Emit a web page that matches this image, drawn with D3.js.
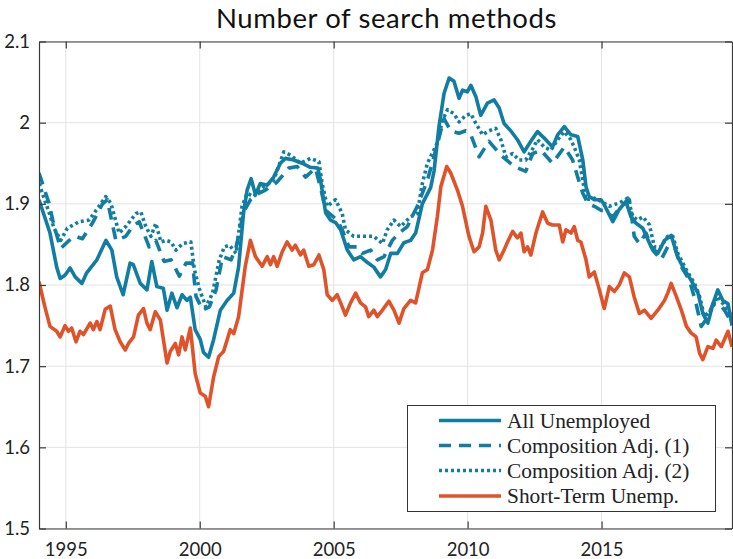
<!DOCTYPE html>
<html><head><meta charset="utf-8">
<script src="https://cdn.jsdelivr.net/npm/d3@7/dist/d3.min.js"></script>
<style>body{margin:0;background:#fff}</style>
</head><body>
<svg id="chart" width="733" height="559"></svg>
<script>
const chartTitle = "Number of search methods";
const xTickValues = [1995, 2000, 2005, 2010, 2015];
const yTickValues = [1.5, 1.6, 1.7, 1.8, 1.9, 2.0, 2.1];
const yTickLabels = ["1.5", "1.6", "1.7", "1.8", "1.9", "2", "2.1"];
const seriesNames = ["All Unemployed", "Composition Adj. (1)", "Composition Adj. (2)", "Short-Term Unemp."];

const allUnemployed = [[1994.0,1.905],[1994.41,1.864],[1994.66,1.822],[1994.79,1.808],[1994.97,1.812],[1995.16,1.821],[1995.35,1.81],[1995.6,1.802],[1995.78,1.815],[1996.16,1.831],[1996.5,1.855],[1996.72,1.843],[1996.9,1.81],[1997.14,1.788],[1997.4,1.827],[1997.52,1.825],[1997.78,1.802],[1998.03,1.794],[1998.21,1.829],[1998.4,1.798],[1998.64,1.796],[1998.78,1.769],[1998.96,1.79],[1999.15,1.772],[1999.34,1.788],[1999.52,1.781],[1999.65,1.785],[1999.83,1.745],[2000.02,1.733],[2000.14,1.717],[2000.33,1.711],[2000.52,1.733],[2000.77,1.769],[2001.02,1.781],[2001.27,1.79],[2001.45,1.822],[2001.64,1.89],[2001.77,1.917],[2001.92,1.931],[2002.08,1.911],[2002.26,1.925],[2002.52,1.923],[2002.76,1.933],[2003.01,1.95],[2003.2,1.956],[2003.51,1.954],[2003.82,1.95],[2004.13,1.945],[2004.41,1.944],[2004.51,1.929],[2004.7,1.889],[2004.88,1.88],[2005.07,1.877],[2005.26,1.868],[2005.51,1.843],[2005.75,1.831],[2006.0,1.835],[2006.25,1.828],[2006.5,1.822],[2006.75,1.81],[2006.94,1.819],[2007.13,1.839],[2007.38,1.839],[2007.62,1.852],[2007.87,1.855],[2008.06,1.864],[2008.31,1.9],[2008.62,1.92],[2008.75,1.941],[2008.93,1.995],[2009.12,2.036],[2009.31,2.055],[2009.49,2.051],[2009.68,2.03],[2009.81,2.04],[2009.99,2.038],[2010.12,2.046],[2010.31,2.032],[2010.49,2.009],[2010.74,2.024],[2010.99,2.028],[2011.18,2.018],[2011.36,1.999],[2011.61,1.99],[2011.86,1.979],[2012.11,1.964],[2012.36,1.977],[2012.61,1.989],[2012.86,1.981],[2013.17,1.97],[2013.36,1.985],[2013.61,1.995],[2013.86,1.985],[2014.11,1.983],[2014.3,1.954],[2014.42,1.921],[2014.54,1.909],[2014.73,1.905],[2014.98,1.905],[2015.1,1.899],[2015.42,1.878],[2015.66,1.893],[2015.91,1.903],[2016.1,1.884],[2016.29,1.876],[2016.54,1.87],[2016.85,1.847],[2017.1,1.839],[2017.35,1.855],[2017.6,1.861],[2017.85,1.834],[2018.09,1.819],[2018.34,1.806],[2018.6,1.79],[2018.78,1.765],[2018.97,1.753],[2019.16,1.777],[2019.34,1.794],[2019.53,1.781],[2019.72,1.777],[2019.87,1.75]];

const compositionAdj1 = [[1994.0,1.938],[1994.37,1.901],[1994.56,1.873],[1994.81,1.845],[1995.19,1.857],[1995.37,1.86],[1995.62,1.857],[1995.99,1.876],[1996.37,1.9],[1996.55,1.905],[1996.74,1.875],[1996.87,1.855],[1997.24,1.86],[1997.49,1.872],[1997.74,1.878],[1998.11,1.847],[1998.36,1.855],[1998.67,1.829],[1998.93,1.831],[1999.24,1.811],[1999.49,1.827],[1999.73,1.827],[1999.86,1.786],[2000.11,1.769],[2000.36,1.773],[2000.61,1.794],[2000.85,1.835],[2001.17,1.831],[2001.36,1.847],[2001.64,1.89],[2001.89,1.905],[2002.2,1.913],[2002.45,1.917],[2002.89,1.927],[2003.32,1.944],[2003.64,1.946],[2003.95,1.933],[2004.32,1.944],[2004.51,1.92],[2004.7,1.892],[2005.13,1.88],[2005.32,1.868],[2005.57,1.847],[2005.88,1.847],[2006.07,1.839],[2006.38,1.843],[2006.63,1.831],[2006.88,1.835],[2007.19,1.855],[2007.44,1.864],[2007.75,1.872],[2008.12,1.897],[2008.5,1.929],[2008.81,1.966],[2009.12,2.005],[2009.37,1.99],[2009.68,1.987],[2009.93,1.99],[2010.12,1.985],[2010.43,1.958],[2010.8,1.977],[2011.24,1.96],[2011.74,1.946],[2012.17,1.94],[2012.43,1.962],[2012.74,1.966],[2013.17,1.95],[2013.61,1.97],[2013.92,1.954],[2014.11,1.933],[2014.3,1.913],[2014.48,1.901],[2014.73,1.897],[2014.98,1.892],[2015.1,1.892],[2015.42,1.884],[2015.73,1.897],[2016.04,1.905],[2016.22,1.86],[2016.41,1.851],[2016.66,1.864],[2016.91,1.843],[2017.22,1.831],[2017.47,1.847],[2017.72,1.847],[2017.97,1.823],[2018.28,1.806],[2018.53,1.777],[2018.72,1.749],[2018.97,1.761],[2019.16,1.777],[2019.4,1.777],[2019.59,1.769],[2019.87,1.753]];

const compositionAdj2 = [[1994.0,1.925],[1994.37,1.89],[1994.56,1.87],[1994.81,1.855],[1995.06,1.87],[1995.5,1.878],[1995.87,1.88],[1996.24,1.897],[1996.49,1.909],[1996.68,1.901],[1996.99,1.864],[1997.24,1.872],[1997.62,1.888],[1997.8,1.89],[1997.99,1.872],[1998.18,1.86],[1998.36,1.876],[1998.55,1.853],[1998.74,1.855],[1998.93,1.853],[1999.11,1.843],[1999.36,1.851],[1999.67,1.853],[1999.8,1.819],[1999.98,1.796],[2000.23,1.773],[2000.48,1.79],[2000.73,1.831],[2000.92,1.847],[2001.11,1.849],[2001.36,1.839],[2001.58,1.897],[2001.77,1.913],[2002.01,1.909],[2002.39,1.921],[2002.76,1.929],[2003.14,1.964],[2003.39,1.96],[2003.76,1.95],[2004.13,1.956],[2004.45,1.952],[2004.57,1.925],[2004.76,1.897],[2005.07,1.905],[2005.32,1.888],[2005.44,1.868],[2005.75,1.86],[2006.13,1.86],[2006.5,1.86],[2006.82,1.851],[2007.0,1.868],[2007.25,1.88],[2007.5,1.872],[2007.87,1.884],[2008.12,1.888],[2008.31,1.925],[2008.5,1.95],[2008.87,1.975],[2009.06,2.003],[2009.25,2.016],[2009.49,2.011],[2009.68,2.001],[2009.93,2.009],[2010.12,2.011],[2010.31,1.999],[2010.56,1.985],[2010.8,1.99],[2011.05,1.993],[2011.24,1.979],[2011.43,1.958],[2011.68,1.962],[2011.92,1.954],[2012.17,1.954],[2012.43,1.968],[2012.61,1.979],[2012.86,1.97],[2013.11,1.966],[2013.36,1.979],[2013.61,1.989],[2013.86,1.979],[2013.98,1.97],[2014.17,1.954],[2014.3,1.929],[2014.42,1.905],[2014.73,1.907],[2014.98,1.903],[2015.29,1.897],[2015.66,1.901],[2015.98,1.907],[2016.17,1.884],[2016.35,1.88],[2016.54,1.884],[2016.79,1.874],[2016.97,1.847],[2017.22,1.847],[2017.47,1.86],[2017.66,1.86],[2017.85,1.839],[2018.16,1.819],[2018.47,1.802],[2018.66,1.786],[2018.84,1.761],[2019.09,1.769],[2019.34,1.786],[2019.53,1.777],[2019.72,1.769],[2019.87,1.761]];

const shortTermUnemp = [[1994.0,1.804],[1994.22,1.773],[1994.41,1.749],[1994.66,1.743],[1994.79,1.736],[1994.97,1.75],[1995.1,1.743],[1995.22,1.747],[1995.38,1.73],[1995.53,1.743],[1995.66,1.739],[1995.91,1.753],[1996.03,1.745],[1996.16,1.755],[1996.28,1.745],[1996.47,1.77],[1996.66,1.774],[1996.84,1.745],[1997.03,1.73],[1997.22,1.72],[1997.34,1.728],[1997.53,1.736],[1997.71,1.763],[1997.9,1.771],[1998.03,1.753],[1998.15,1.745],[1998.34,1.767],[1998.53,1.757],[1998.78,1.704],[1998.9,1.718],[1999.09,1.728],[1999.21,1.714],[1999.34,1.736],[1999.46,1.72],[1999.65,1.747],[1999.83,1.691],[2000.02,1.667],[2000.21,1.663],[2000.33,1.65],[2000.52,1.687],[2000.71,1.712],[2000.89,1.718],[2001.14,1.745],[2001.27,1.74],[2001.45,1.761],[2001.7,1.823],[2001.89,1.855],[2002.08,1.835],[2002.33,1.823],[2002.52,1.835],[2002.64,1.825],[2002.76,1.835],[2002.89,1.823],[2003.08,1.841],[2003.26,1.853],[2003.45,1.843],[2003.57,1.849],[2003.76,1.837],[2003.88,1.843],[2004.07,1.823],[2004.26,1.825],[2004.45,1.837],[2004.63,1.819],[2004.76,1.788],[2004.95,1.781],[2005.13,1.788],[2005.26,1.778],[2005.44,1.763],[2005.63,1.778],[2005.82,1.79],[2006.0,1.778],[2006.19,1.773],[2006.31,1.761],[2006.5,1.769],[2006.63,1.761],[2006.82,1.769],[2007.06,1.78],[2007.25,1.769],[2007.44,1.753],[2007.62,1.771],[2007.87,1.781],[2008.06,1.778],[2008.31,1.815],[2008.5,1.819],[2008.69,1.843],[2008.87,1.884],[2009.0,1.921],[2009.22,1.946],[2009.37,1.938],[2009.62,1.917],[2009.81,1.897],[2010.05,1.86],[2010.24,1.841],[2010.43,1.847],[2010.56,1.864],[2010.68,1.897],[2010.87,1.88],[2011.05,1.843],[2011.18,1.831],[2011.36,1.843],[2011.49,1.853],[2011.68,1.866],[2011.86,1.858],[2011.99,1.864],[2012.11,1.841],[2012.24,1.847],[2012.36,1.837],[2012.55,1.864],[2012.8,1.89],[2012.99,1.876],[2013.17,1.874],[2013.42,1.874],[2013.55,1.853],[2013.67,1.868],[2013.86,1.864],[2013.98,1.872],[2014.11,1.855],[2014.23,1.853],[2014.42,1.831],[2014.54,1.81],[2014.73,1.816],[2014.92,1.794],[2015.1,1.771],[2015.29,1.798],[2015.48,1.792],[2015.66,1.8],[2015.85,1.815],[2016.04,1.81],[2016.22,1.785],[2016.41,1.765],[2016.6,1.769],[2016.85,1.759],[2017.1,1.769],[2017.35,1.781],[2017.47,1.79],[2017.6,1.802],[2017.79,1.786],[2017.98,1.769],[2018.17,1.749],[2018.34,1.741],[2018.53,1.736],[2018.66,1.716],[2018.78,1.708],[2018.97,1.724],[2019.16,1.722],[2019.28,1.732],[2019.47,1.724],[2019.72,1.743],[2019.87,1.724]];

const seriesData = [allUnemployed, compositionAdj1, compositionAdj2, shortTermUnemp];
const seriesColors = ["#127da2", "#127da2", "#127da2", "#e0532a"];
const seriesDash = [null, "12,8", "3,3", null];

const W = 733, H = 559;
const m = {left: 39, right: 1, top: 41.5, bottom: 30.5};
const svg = d3.select("#chart");
const x = d3.scaleLinear().domain([1994.0, 2019.87]).range([m.left, W - m.right]);
const y = d3.scaleLinear().domain([1.5, 2.1]).range([H - m.bottom, m.top]);
const x0 = m.left, x1 = W - m.right, y0 = H - m.bottom, y1 = m.top;

// grid
const grid = svg.append("g").attr("stroke", "#e3e3e3").attr("stroke-width", 1);
grid.selectAll("line.v").data(xTickValues).join("line")
  .attr("x1", d => x(d)).attr("x2", d => x(d)).attr("y1", y1).attr("y2", y0);
grid.selectAll("line.h").data(yTickValues).join("line")
  .attr("x1", x0).attr("x2", x1).attr("y1", d => y(d)).attr("y2", d => y(d));

// lines
svg.append("defs").append("clipPath").attr("id", "clip")
  .append("rect").attr("x", x0).attr("y", y1).attr("width", x1 - x0).attr("height", y0 - y1);
const line = d3.line().x(d => x(d[0])).y(d => y(d[1]));
const lines = svg.append("g").attr("clip-path", "url(#clip)");
seriesData.forEach((s, i) => {
  lines.append("path").datum(s)
    .attr("d", line)
    .attr("fill", "none")
    .attr("stroke", seriesColors[i])
    .attr("stroke-width", 3.6)
    .attr("stroke-linejoin", "round")
    .attr("stroke-dasharray", seriesDash[i]);
});

// axes
const axisColor = "#3a3a3a";
const tickLen = 7;
const font = "Lato, 'Noto Sans', sans-serif";
const bottomAxis = d3.axisBottom(x).tickValues(xTickValues).tickFormat(d3.format("d")).tickSizeInner(-tickLen).tickSizeOuter(0).tickPadding(14);
const leftAxis = d3.axisLeft(y).tickValues(yTickValues).tickFormat((d, i) => yTickLabels[i]).tickSizeInner(-tickLen).tickSizeOuter(0).tickPadding(9);
const topAxis = d3.axisTop(x).tickValues(xTickValues).tickFormat("").tickSizeInner(-tickLen).tickSizeOuter(0);
const rightAxis = d3.axisRight(y).tickValues(yTickValues).tickFormat("").tickSizeInner(-tickLen).tickSizeOuter(0);

function styleAxis(g) {
  g.select(".domain").attr("stroke", axisColor).attr("stroke-width", 1.2);
  g.selectAll(".tick line").attr("stroke", axisColor).attr("stroke-width", 1.2);
  g.selectAll(".tick text").attr("fill", "#222").style("font-family", font).style("font-size", "18.5px");
}
svg.append("g").attr("transform", `translate(0,${y0})`).call(bottomAxis).call(styleAxis);
svg.append("g").attr("transform", `translate(${x0},0)`).call(leftAxis).call(styleAxis);
svg.append("g").attr("transform", `translate(0,${y1})`).call(topAxis).call(styleAxis);
svg.append("g").attr("transform", `translate(${x1},0)`).call(rightAxis).call(styleAxis);

// title
svg.append("text").attr("x", 386.5).attr("y", 28)
  .attr("text-anchor", "middle").attr("fill", "#111")
  .style("font-family", font).style("font-size", "27.5px").style("letter-spacing", "0.6px")
  .text(chartTitle);

// legend
const lg = svg.append("g");
lg.append("rect").attr("x", 407.5).attr("y", 405.5).attr("width", 308).attr("height", 106)
  .attr("fill", "#fff").attr("stroke", "#333").attr("stroke-width", 1);
const rowY = [420.5, 445.5, 470.5, 496];
seriesNames.forEach((n, i) => {
  lg.append("line").attr("x1", 439).attr("x2", 501).attr("y1", rowY[i]).attr("y2", rowY[i])
    .attr("stroke", seriesColors[i]).attr("stroke-width", 3.6)
    .attr("stroke-dasharray", seriesDash[i]);
  lg.append("text").attr("x", 507).attr("y", rowY[i]).attr("dy", "0.35em")
    .attr("fill", "#222")
    .style("font-family", "'Liberation Serif', 'DejaVu Serif', serif").style("font-size", "21.4px")
    .text(n);
});
</script>
</body></html>
